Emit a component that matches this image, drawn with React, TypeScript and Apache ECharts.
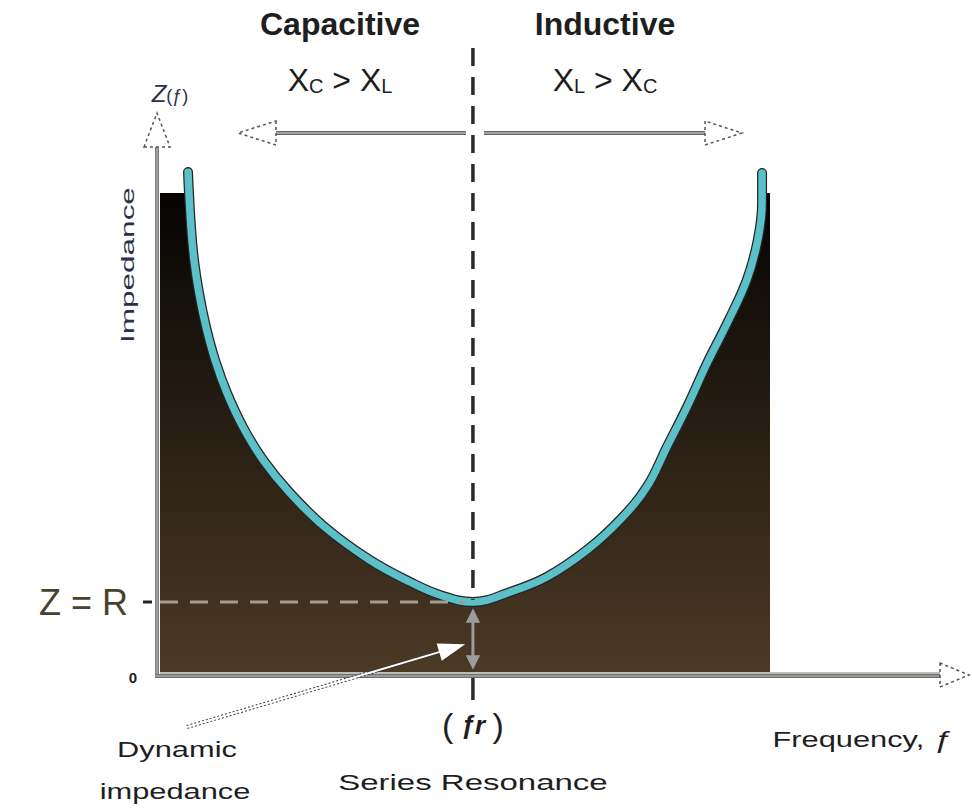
import { useEffect, useRef } from 'react';
import * as echarts from 'echarts';

// Impedance |Z| of a series RLC circuit against frequency (both normalised to 0-100)
const frequency = [4.59, 4.75, 5.08, 5.57, 6.39, 7.54, 9.02, 10.98, 13.6, 16.9, 21.3, 27.0, 34.4, 41.0, 45.9, 51.3, 57.4, 63.4, 70.0, 75.4, 79.8, 83.1, 86.4, 89.7, 93.0, 96.2, 98.0, 98.7, 98.7];
const impedance = [100, 95.8, 89, 82.4, 75.8, 69, 62.4, 55.8, 49, 42.4, 35.8, 29, 22.4, 18, 15.4, 14, 16, 19, 24.4, 30.4, 37, 45, 53, 61.8, 69.8, 78.4, 86.4, 93.8, 99.8];

// Resonant frequency and the minimum impedance (Z = R) reached there
const RESONANCE = 51.3;
const R = 14;
// Height of the shaded band at both ends of the frequency range
const PLATEAU = 95.8;

const regionTitles = ['Capacitive', 'Inductive'];

const FONT = '"Liberation Sans", Arial, sans-serif';
const SMOOTH = 0.4;

export default function App() {
  const ref = useRef<HTMLDivElement>(null);

  useEffect(() => {
    document.body.style.margin = '0';
    const chart = echarts.init(ref.current!, null, { renderer: 'svg' });
    const curve = frequency.map((f, i) => [f, impedance[i]]);
    const inner = curve.filter((p) => p[1] < PLATEAU);
    const fill = [
      [0, PLATEAU],
      [frequency[0], PLATEAU],
      ...inner,
      [frequency[frequency.length - 1] + 0.1, PLATEAU],
      [100, PLATEAU],
    ];

    chart.setOption({
      animation: false,
      grid: { left: 160, right: 202, top: 172, bottom: 140 },
      xAxis: { type: 'value', min: 0, max: 100, show: false },
      yAxis: { type: 'value', min: 0, max: 100, show: false },
      series: [
        {
          type: 'line',
          data: fill,
          smooth: SMOOTH,
          symbol: 'none',
          lineStyle: { width: 0 },
          areaStyle: {
            opacity: 1,
            color: new echarts.graphic.LinearGradient(0, 0, 0, 1, [
              { offset: 0, color: '#050403' },
              { offset: 1, color: '#4b3a24' },
            ]),
          },
          z: 1,
        },
        {
          type: 'line',
          data: curve,
          smooth: SMOOTH,
          symbol: 'none',
          lineStyle: { width: 10, color: '#262626', cap: 'round' },
          z: 2,
        },
        {
          type: 'line',
          data: curve,
          smooth: SMOOTH,
          symbol: 'none',
          lineStyle: { width: 7.5, color: '#5cc0c8', cap: 'round' },
          z: 3,
        },
      ],
    });

    const px = (x: number, y: number) => chart.convertToPixel({ gridIndex: 0 }, [x, y]) as number[];
    const [gx0, gy0] = px(0, 0);
    const [fx, ry] = px(RESONANCE, R);
    const axisX = gx0 - 3;
    const axisY = gy0 + 3;

    const line = (x1: number, y1: number, x2: number, y2: number, stroke: string, lineWidth: number, lineDash?: number[]) => ({
      type: 'line',
      z: 50,
      shape: { x1, y1, x2, y2 },
      style: { stroke, lineWidth, lineDash },
      silent: true,
    });
    const poly = (points: number[][], fill: string, stroke: string, lineDash?: number[]) => ({
      type: 'polygon',
      z: 50,
      shape: { points },
      style: { fill, stroke, lineWidth: 1.5, lineDash },
      silent: true,
    });
    const text = (x: number, y: number, style: any, extra: any = {}) => ({
      type: 'text',
      z: 50,
      x,
      y,
      style: { align: 'center', verticalAlign: 'middle', fill: '#1e1e1e', ...style },
      silent: true,
      ...extra,
    });

    // Arrow from the "Dynamic impedance" note to the gap between Z = R and zero
    const tail = [187, 727];
    const tip = [fx - 10, gy0 - 27];
    const dx = tip[0] - tail[0];
    const dy = tip[1] - tail[1];
    const len = Math.hypot(dx, dy);
    const ux = dx / len;
    const uy = dy / len;
    const base = [tip[0] - ux * 24, tip[1] - uy * 24];
    const head = [
      tip,
      [base[0] - uy * 8, base[1] + ux * 8],
      [base[0] + uy * 8, base[1] - ux * 8],
    ];

    const arrowY = 133;
    const sub = { font: `20px ${FONT}`, fill: '#1e1e1e', verticalAlign: 'bottom' };
    const big = { font: `32px ${FONT}`, fill: '#1e1e1e', verticalAlign: 'bottom' };

    chart.setOption({
      graphic: [
        // axes
        line(axisX, axisY + 2, axisX, 147, '#7d7d7d', 4),
        line(axisX, axisY + 2, axisX, 147, '#b5b5b5', 1.2),
        poly([[axisX - 13, 147], [axisX + 13, 147], [axisX, 113]], '#fff', '#555', [3, 3]),
        line(gx0, gy0 + 1, 940, gy0 + 1, '#c4bcb2', 2),
        line(axisX - 2, axisY + 1, 940, axisY + 1, '#6e6e6e', 4),
        line(axisX - 2, axisY + 1, 940, axisY + 1, '#c8c8c8', 1.2),
        poly([[940, 663], [940, 687], [969, 675]], '#fff', '#555', [3, 3]),

        // resonance marker
        line(fx, 48, fx, ry - 2, '#2a2a2a', 3.5, [18, 11]),
        line(fx, axisY + 3, fx, 700, '#2a2a2a', 3.5),
        line(gx0, ry, fx - 8, ry, '#a39b91', 3, [18, 12]),
        line(143, ry, 152, ry, '#222', 3),

        // region arrows
        line(276, arrowY, fx - 7, arrowY, '#666', 4),
        line(276, arrowY, fx - 7, arrowY, '#dcdcdc', 1.2),
        line(fx + 11, arrowY, 705, arrowY, '#666', 4),
        line(fx + 11, arrowY, 705, arrowY, '#dcdcdc', 1.2),
        poly([[276, 121], [276, 145], [238, 133]], '#fff', '#555', [3, 3]),
        poly([[705, 121], [705, 145], [742, 133]], '#fff', '#555', [3, 3]),

        // distance from zero up to R
        line(fx, ry + 14, fx, gy0 - 12, '#9c9c9c', 3),
        poly([[fx, ry + 8], [fx - 6, ry + 20], [fx + 6, ry + 20]], '#9c9c9c', '#9c9c9c'),
        poly([[fx, gy0 - 4], [fx - 6, gy0 - 16], [fx + 6, gy0 - 16]], '#9c9c9c', '#9c9c9c'),

        // dynamic impedance pointer
        line(tail[0], tail[1], base[0], base[1], '#3a3a3a', 4, [2, 2]),
        line(tail[0], tail[1], base[0], base[1], '#ffffff', 2),
        poly(head, '#ffffff', '#ffffff'),

        // texts
        text(340, 24, { text: regionTitles[0], font: `bold 32px ${FONT}` }),
        text(605, 24, { text: regionTitles[1], font: `bold 32px ${FONT}` }),
        text(340, 80, {
          text: '{a|X}{s|C}{a| > X}{s|L}',
          rich: { a: big, s: sub },
        }),
        text(605, 80, {
          text: '{a|X}{s|L}{a| > X}{s|C}',
          rich: { a: big, s: sub },
        }),
        text(170, 93, {
          text: '{z|Z}{s|(ƒ)}',
          rich: {
            z: { font: `italic 24px ${FONT}`, fill: '#2b2f4a', verticalAlign: 'bottom' },
            s: { font: `18px ${FONT}`, fill: '#2b2f4a', verticalAlign: 'bottom' },
          },
        }),
        text(128, 265, { text: 'Impedance', font: `18px ${FONT}`, fill: '#2b2f4a' }, { rotation: Math.PI / 2, scaleX: 1.75 }),
        text(128, ry, { text: 'Z = R', font: `36px ${FONT}`, fill: '#4a4230', align: 'right' }),
        text(133, 677, { text: '0', font: `bold 15px ${FONT}` }),
        text(fx, 725, {
          text: '{p|(}{f| ƒr }{p|)}',
          rich: {
            p: { font: `34px ${FONT}`, fill: '#1e1e1e' },
            f: { font: `italic bold 26px ${FONT}`, fill: '#1e1e1e' },
          },
        }),
        text(177, 750, { text: 'Dynamic', font: `22px ${FONT}` }, { scaleX: 1.4 }),
        text(175, 792, { text: 'impedance', font: `22px ${FONT}` }, { scaleX: 1.4 }),
        text(fx, 783, { text: 'Series Resonance', font: `22px ${FONT}` }, { scaleX: 1.5 }),
        text(862, 740, {
          text: '{a|Frequency, }{b|ƒ}',
          rich: {
            a: { font: `22px ${FONT}`, fill: '#1e1e1e' },
            b: { font: `italic 24px ${FONT}`, fill: '#1e1e1e' },
          },
        }, { scaleX: 1.4 }),
      ],
    });

    return () => chart.dispose();
  }, []);

  return <div ref={ref} style={{ width: 972, height: 812 }} />;
}
